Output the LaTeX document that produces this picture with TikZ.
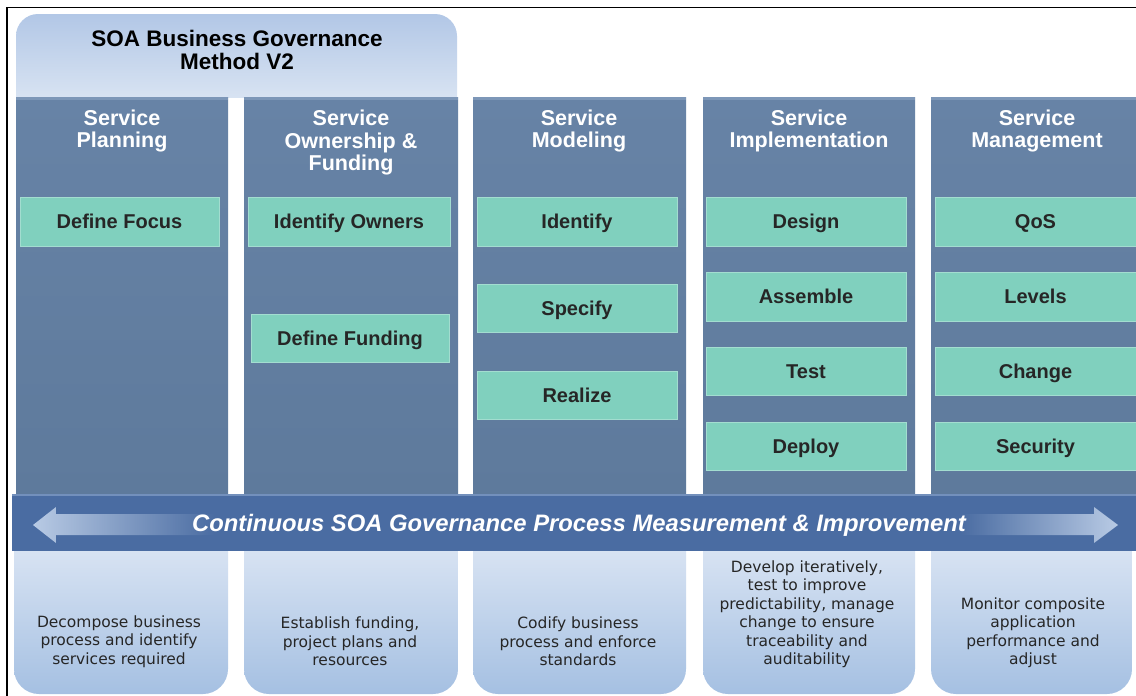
\documentclass[tikz,border=0pt]{standalone}
\usepackage{fontspec}
\setmainfont{Liberation Sans}
\newfontfamily\dvs{DejaVu Sans}
\usetikzlibrary{fadings}
\definecolor{colblue}{HTML}{5E7A9C}
\definecolor{coltop}{HTML}{6783A6}
\definecolor{colrim}{HTML}{7D97B8}
\definecolor{mint}{HTML}{80D0BE}
\definecolor{mintedge}{HTML}{A3DDD0}
\definecolor{bandblue}{HTML}{4A6CA2}
\definecolor{bandrim}{HTML}{7390BC}
\definecolor{lightA}{HTML}{B2C7E6}
\definecolor{lightB}{HTML}{E4ECF6}
\definecolor{lowA}{HTML}{E2EAF6}
\definecolor{lowB}{HTML}{A5C0E2}
\definecolor{arrowlight}{HTML}{B9CBE5}
\tikzfading[name=fadeoutright, left color=transparent!0, right color=transparent!100]
\tikzfading[name=fadeoutleft, left color=transparent!100, right color=transparent!0]
\tikzset{
  hdr/.style={text=white, font=\fontsize{21.5}{22.5}\selectfont\bfseries, align=center, inner sep=0pt},
  gbox/.style={fill=mint, draw=mintedge, line width=1pt, font=\fontsize{20}{22}\selectfont\bfseries, inner sep=0pt, text=black!85, text height=14.5pt, text depth=0pt},
  low/.style={font=\dvs\fontsize{15.5}{18.5}\selectfont, align=center, inner sep=0pt, text=black!85},
  colfill/.style={top color=coltop, bottom color=colblue},
}
\begin{document}
\begin{tikzpicture}[x=1pt,y=-1pt]
\useasboundingbox (0,0) rectangle (1136,696);
\fill[white] (0,0) rectangle (1136,696);
% frame
\draw[black, line width=1.5pt] (7,696) -- (7,7.5) -- (1136,7.5);
% title box
\begin{scope}
\clip (0,0) rectangle (1136,97);
\shade[top color=lightA, bottom color=lightB, rounded corners=22pt] (16,14) rectangle (457,125);
\end{scope}
\node[font=\fontsize{22.5}{23.5}\selectfont\bfseries, align=center, inner sep=0pt] (title) at (237,50) {SOA Business Governance\\Method V2};
% columns
\foreach \a/\b [count=\i] in {16/228, 244/458, 473/686, 703/915, 931/1136}{
  \shade[colfill] (\a,97) rectangle (\b,494);
  \fill[colrim] (\a,97) rectangle (\b,99.5);
}
% headers
\node[hdr] (h1) at (122,131) {Service\\Planning};
\node[hdr] (h2) at (351,142.5) {Service\\Ownership \&\\Funding};
\node[hdr] (h3) at (579,131) {Service\\Modeling};
\node[hdr] (h4) at (809,131) {Service\\Implementation};
\node[hdr] (h5) at (1037,131) {Service\\Management};
% green boxes
\node[gbox, minimum width=199pt, minimum height=49pt] (g11) at (119.5,221.5) {Define Focus};
\node[gbox, minimum width=202pt, minimum height=49pt] (g21) at (349,221.5) {Identify Owners};
\node[gbox, minimum width=198pt, minimum height=48pt] (g22) at (350,338.5) {Define Funding};
\node[gbox, minimum width=200pt, minimum height=49pt] (g31) at (577,221.5) {Identify};
\node[gbox, minimum width=200pt, minimum height=48pt] (g32) at (577,308) {Specify};
\node[gbox, minimum width=200pt, minimum height=48pt] (g33) at (577,395) {Realize};
\node[gbox, minimum width=200pt, minimum height=49pt] (g41) at (806,221.5) {Design};
\node[gbox, minimum width=200pt, minimum height=49pt] (g42) at (806,296.5) {Assemble};
\node[gbox, minimum width=200pt, minimum height=48pt] (g43) at (806,371) {Test};
\node[gbox, minimum width=200pt, minimum height=48pt] (g44) at (806,446) {Deploy};
\node[gbox, minimum width=201pt, minimum height=49pt] (g51) at (1035.5,221.5) {QoS};
\node[gbox, minimum width=201pt, minimum height=49pt] (g52) at (1035.5,296.5) {Levels};
\node[gbox, minimum width=201pt, minimum height=48pt] (g53) at (1035.5,371) {Change};
\node[gbox, minimum width=201pt, minimum height=48pt] (g54) at (1035.5,446) {Security};
% bottom boxes
\begin{scope}
\clip (0,551) rectangle (1136,696);
\foreach \a/\b in {14/228, 244/458, 473/686, 703/915, 931/1132}{
  \shade[top color=lowA, bottom color=lowB, rounded corners=25pt] (\a,520) rectangle (\b,694);
}
\end{scope}
% band
\fill[bandblue] (12,494) rectangle (1136,551);
\fill[bandrim] (12,494) rectangle (1136,496);
\fill[arrowlight, path fading=fadeoutright] (33,525) -- (56,507) -- (56,514) -- (215,514) -- (215,535) -- (56,535) -- (56,543) -- cycle;
\fill[arrowlight, path fading=fadeoutleft] (1118,525) -- (1094,507) -- (1094,514) -- (960,514) -- (960,535) -- (1094,535) -- (1094,543) -- cycle;
\node[text=white, font=\fontsize{23.8}{25}\selectfont\bfseries\itshape, inner sep=0pt] (band) at (579,525) {Continuous SOA Governance Process Measurement \& Improvement};
% bottom texts
\node[low] (t1) at (119,641.5) {Decompose business\\process and identify\\services required};
\node[low] (t2) at (350,641.5) {Establish funding,\\project plans and\\resources};
\node[low] (t3) at (578,641.5) {Codify business\\process and enforce\\standards};
\node[low] (t4) at (807,614) {Develop iteratively,\\test to improve\\predictability, manage\\change to ensure\\traceability and\\auditability};
\node[low] (t5) at (1033,632.5) {Monitor composite\\application\\performance and\\adjust};
\end{tikzpicture}
\end{document}
